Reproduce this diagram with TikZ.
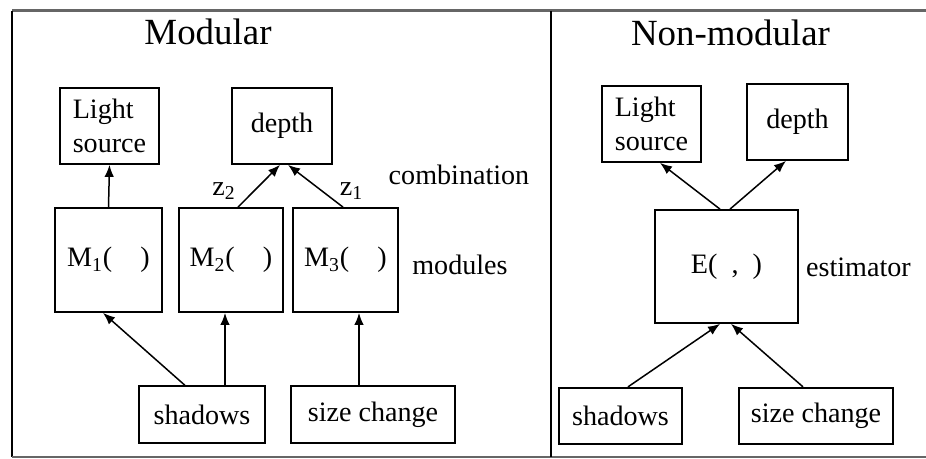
\documentclass[tikz,border=0pt]{standalone}
\usepackage{fontspec}
\setmainfont{Liberation Serif}
\usetikzlibrary{calc,arrows.meta}

\begin{document}
\begin{tikzpicture}[>={Latex[length=2.4mm,width=1.9mm]},
    box/.style={draw,line width=.35mm,inner sep=0,align=left},
    lbl/.style={inner sep=0},
    font=\fontsize{16}{19}\selectfont]
    \newcommand{\BH}{1.52}
    \newcommand{\SH}{1.13}
    \useasboundingbox(0,0)rectangle(18.52,9.18);
    % frame
    \draw[black!60,line width=.6mm](0.24,8.96)--(18.52,8.96);
    \draw[line width=.35mm](0.24,8.96)--(0.24,0.04);
    \draw[black!60,line width=.25mm](0.24,0.04)--(18.52,0.04);
    \draw[line width=.3mm](11.02,8.96)--(11.02,0.04);
    % modular
    \node[lbl,font=\fontsize{21}{24}\selectfont](tmod)at(4.16,8.54){Modular};
    \node[box,minimum width=1.98cm,minimum height=\BH cm](ls1)at(2.19,6.66){Light\\source};
    \node[box,minimum width=2.0cm,minimum height=\BH cm](dep1)at(5.64,6.66){depth};
    \node[box,minimum width=2.14cm,minimum height=2.08cm](m1)at(2.17,3.98){M\textsubscript{1}(\enspace\enspace)};
    \node[box,minimum width=2.08cm,minimum height=2.08cm](m2)at(4.62,3.98){M\textsubscript{2}(\enspace\enspace)};
    \node[box,minimum width=2.1cm,minimum height=2.08cm](m3)at(6.91,3.98){M\textsubscript{3}(\enspace\enspace)};
    \node[box,minimum width=2.52cm,minimum height=\SH cm](sh1)at(4.04,0.89){shadows};
    \node[box,minimum width=3.28cm,minimum height=\SH cm](sc1)at(7.46,0.89){size change};
    \node[lbl](comb)at(9.18,5.68){combination};
    \node[lbl](mods)at(9.2,3.88){modules};
    \node[lbl](z2)at(4.48,5.36){z\textsubscript{2}};
    \node[lbl](z1)at(7.03,5.36){z\textsubscript{1}};
    \draw[->,line width=.3mm](m1.north)--(ls1.south);
    \draw[->,line width=.3mm]($(m2.north)+(.14,0)$)--($(dep1.south)+(-.04,0)$);
    \draw[->,line width=.3mm]($(m3.north)+(-.05,0)$)--($(dep1.south)+(.12,0)$);
    \draw[->,line width=.3mm]($(sh1.north)+(-.34,0)$)--($(m1.south)+(-.11,0)$);
    \coordinate(a2)at($(m2.south)+(-.12,0)$);
    \draw[->,line width=.3mm](sh1.north-|a2)--(a2);
    \coordinate(a3)at($(m3.south)+(.27,0)$);
    \draw[->,line width=.3mm](sc1.north-|a3)--(a3);
    % non-modular
    \node[lbl,font=\fontsize{21}{24}\selectfont](tnon)at(14.61,8.52){Non-modular};
    \node[box,minimum width=1.98cm,minimum height=\BH cm](ls2)at(13.03,6.70){Light\\source};
    \node[box,minimum width=2.02cm,minimum height=\BH cm](dep2)at(15.95,6.74){depth};
    \node[box,minimum width=2.86cm,minimum height=2.26cm](est)at(14.53,3.85){E(\enspace,\enspace)};
    \node[box,minimum width=2.46cm,minimum height=\SH cm](sh2)at(12.41,0.86){shadows};
    \node[box,minimum width=3.08cm,minimum height=\SH cm](sc2)at(16.32,0.86){size change};
    \node[lbl](estl)at(17.17,3.84){estimator};
    \draw[->,line width=.3mm]($(est.north)+(-.13,0)$)--($(ls2.south)+(.17,0)$);
    \draw[->,line width=.3mm]($(est.north)+(.07,0)$)--($(dep2.south)+(-.23,0)$);
    \draw[->,line width=.3mm]($(sh2.north)+(.15,0)$)--($(est.south)+(-.13,0)$);
    \draw[->,line width=.3mm]($(sc2.north)+(-.26,0)$)--($(est.south)+(.09,0)$);
\end{tikzpicture}
\end{document}
